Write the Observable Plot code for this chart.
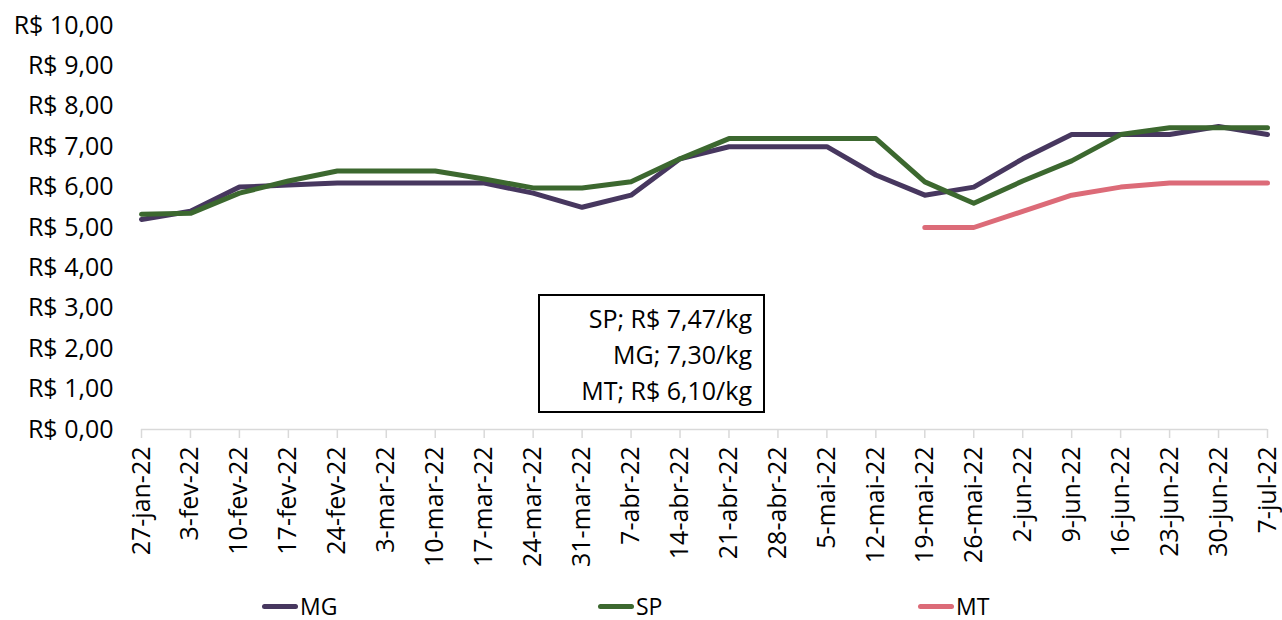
<!DOCTYPE html>
<html>
<head>
<meta charset="utf-8">
<script src="https://cdn.jsdelivr.net/npm/d3@7"></script>
<script src="https://cdn.jsdelivr.net/npm/@observablehq/plot@0.6"></script>
<style>
  body { margin: 0; background: #fff; font-family: "Open Sans", sans-serif; overflow: hidden; }
  #wrap { position: relative; width: 1282px; height: 620px; }
  #note { position: absolute; left: 538px; top: 294px; width: 227px; height: 119px;
    border: 2px solid #000; box-sizing: border-box; text-align: right; font-size: 25px;
    line-height: 36px; padding: 4px 11px 0 0; color: #000; }
  #legend { position: absolute; top: 593px; left: 0; width: 1282px; height: 27px; font-size: 23px; line-height: 27px; color: #000; }
  .li { position: absolute; top: 0; display: flex; align-items: center; height: 27px; line-height: 27px; white-space: nowrap; }
  .li span.sw { display: inline-block; width: 36px; height: 5px; border-radius: 3px; margin-right: 2px; }
</style>
</head>
<body>
<div id="wrap">
  <div id="chart"></div>
  <div id="note"></div>
  <div id="legend"></div>
</div>
<script>
const dates = ["27-jan-22","3-fev-22","10-fev-22","17-fev-22","24-fev-22","3-mar-22","10-mar-22","17-mar-22","24-mar-22","31-mar-22","7-abr-22","14-abr-22","21-abr-22","28-abr-22","5-mai-22","12-mai-22","19-mai-22","26-mai-22","2-jun-22","9-jun-22","16-jun-22","23-jun-22","30-jun-22","7-jul-22"];
const mg = [5.2, 5.4, 6.0, 6.05, 6.1, 6.1, 6.1, 6.1, 5.85, 5.5, 5.8, 6.7, 7.0, 7.0, 7.0, 6.3, 5.8, 6.0, 6.7, 7.3, 7.3, 7.3, 7.5, 7.3];
const sp = [5.33, 5.35, 5.85, 6.15, 6.4, 6.4, 6.4, 6.2, 5.98, 5.98, 6.13, 6.7, 7.2, 7.2, 7.2, 7.2, 6.13, 5.6, 6.15, 6.65, 7.3, 7.47, 7.47, 7.47];
const mt = [null, null, null, null, null, null, null, null, null, null, null, null, null, null, null, null, 5.0, 5.0, 5.4, 5.8, 6.0, 6.1, 6.1, 6.1];
const series = ["MG", "SP", "MT"];
const colors = ["#47375f", "#3c682f", "#dc6b78"];
const yTicks = [0,1,2,3,4,5,6,7,8,9,10];
const noteLines = ["SP; R$ 7,47/kg", "MG; 7,30/kg", "MT; R$ 6,10/kg"];

const values = {MG: mg, SP: sp, MT: mt};
const data = [];
for (const s of series) {
  values[s].forEach((v, i) => { if (v != null) data.push({series: s, date: dates[i], value: v}); });
}

const fmt = d => "R$ " + d.toFixed(2).replace(".", ",");

const chart = Plot.plot({
  width: 1282,
  height: 592,
  marginLeft: 141,
  marginRight: 15,
  marginTop: 25,
  marginBottom: 163,
  style: {fontFamily: "'Open Sans', sans-serif", fontSize: "25px", color: "#000", background: "#fff"},
  x: {type: "point", domain: dates, padding: 0, round: false},
  y: {domain: [0, 10]},
  color: {domain: series, range: colors},
  marks: [
    Plot.axisY({ticks: yTicks, tickFormat: fmt, tickSize: 0, tickPadding: 28, label: null, fontSize: 25}),
    Plot.axisX({tickRotate: -90, tickSize: 9, tickPadding: 8, label: null, stroke: "#d9d9d9", strokeWidth: 1.5, strokeOpacity: 1, fontSize: 25, fill: "#000"}),
    Plot.ruleY([0], {stroke: "#d9d9d9", strokeWidth: 1.5}),
    Plot.line(data, {x: "date", y: "value", z: "series", stroke: "series", strokeWidth: 5, strokeLinejoin: "round", strokeLinecap: "round"})
  ]
});
document.getElementById("chart").appendChild(chart);

document.getElementById("note").innerHTML = noteLines.map(t => `<div>${t}</div>`).join("");

const legendPos = [262, 598, 918];
const legend = document.getElementById("legend");
series.forEach((s, i) => {
  const d = document.createElement("div");
  d.className = "li";
  d.style.left = legendPos[i] + "px";
  d.innerHTML = `<span class="sw" style="background:${colors[i]}"></span><span>${s}</span>`;
  legend.appendChild(d);
});
</script>
</body>
</html>
